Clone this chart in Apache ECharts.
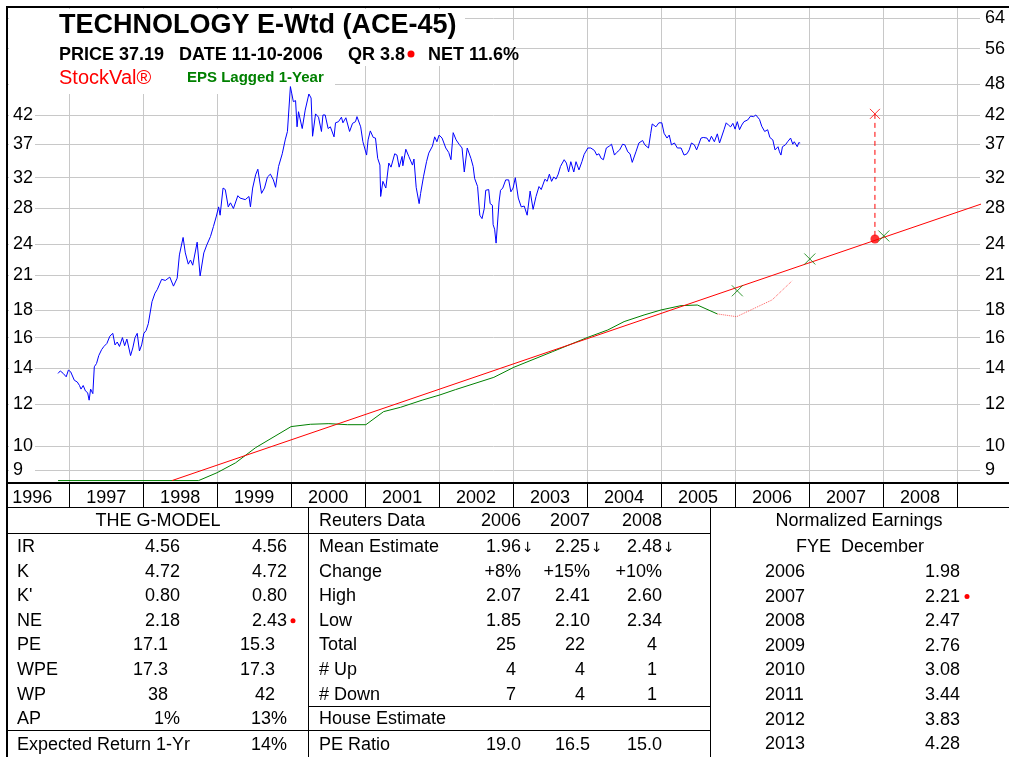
<!DOCTYPE html>
<html>
<head>
<meta charset="utf-8">
<script src="https://cdn.jsdelivr.net/npm/echarts@6.0.0/dist/echarts.min.js"></script>
<style>
html,body{margin:0;padding:0;background:#fff;}
#chart{width:1009px;height:757px;}
</style>
</head>
<body>
<div id="chart"></div>
<script>
var FONT = 'Liberation Sans, Arial, sans-serif';

// axis ticks
var yearTicks = [1997,1998,1999,2000,2001,2002,2003,2004,2005,2006,2007,2008,2009];
var yearLabelPos = [1996.5,1997.5,1998.5,1999.5,2000.5,2001.5,2002.5,2003.5,2004.5,2005.5,2006.5,2007.5,2008.5];
var leftTicks = [9,10,12,14,16,18,21,24,28,32,37,42];
var rightTicks = [9,10,12,14,16,18,21,24,28,32,37,42,48,56,64];
var xMin = 1996.16, xMax = 2009.31;
var yMin = 8.52, yMax = 67.07;

// weekly-ish price (blue)
var priceDates = [1996.85,1996.88,1996.92,1996.96,1996.99,1997.02,1997.07,1997.11,1997.14,1997.16,1997.19,1997.22,1997.25,1997.27,1997.29,1997.32,1997.34,1997.37,1997.40,1997.44,
1997.47,1997.51,1997.55,1997.59,1997.62,1997.65,1997.68,1997.72,1997.75,1997.78,1997.83,1997.86,1997.89,1997.92,1997.95,1997.98,1998.01,1998.04,1998.07,1998.12,
1998.16,1998.19,1998.25,1998.30,1998.36,1998.41,1998.46,1998.49,1998.54,1998.57,1998.61,1998.64,1998.67,1998.73,1998.77,1998.82,1998.86,1998.91,1998.95,1998.99,
1999.02,1999.04,1999.08,1999.11,1999.15,1999.18,1999.22,1999.28,1999.31,1999.38,1999.43,1999.45,1999.48,1999.52,1999.55,1999.60,1999.64,1999.68,1999.72,1999.76,
1999.79,1999.83,1999.88,1999.92,1999.95,1999.99,2000.03,2000.06,2000.08,2000.10,2000.15,2000.19,2000.24,2000.27,2000.29,2000.33,2000.37,2000.41,2000.43,2000.46,
2000.50,2000.53,2000.58,2000.60,2000.64,2000.68,2000.70,2000.74,2000.79,2000.83,2000.87,2000.89,2000.94,2000.97,2001.02,2001.04,2001.07,2001.11,2001.14,2001.17,
2001.20,2001.21,2001.24,2001.28,2001.32,2001.35,2001.40,2001.43,2001.46,2001.50,2001.51,2001.55,2001.59,2001.64,2001.66,2001.69,2001.73,2001.75,2001.79,2001.83,
2001.86,2001.91,2001.94,2001.97,2002.00,2002.04,2002.09,2002.13,2002.16,2002.19,2002.23,2002.27,2002.31,2002.34,2002.38,2002.43,2002.46,2002.48,2002.52,2002.55,
2002.58,2002.61,2002.63,2002.67,2002.69,2002.72,2002.73,2002.75,2002.77,2002.81,2002.83,2002.86,2002.90,2002.94,2002.97,2003.00,2003.03,2003.07,2003.11,2003.15,
2003.19,2003.23,2003.27,2003.31,2003.35,2003.38,2003.43,2003.46,2003.49,2003.52,2003.55,2003.58,2003.61,2003.64,2003.69,2003.72,2003.75,2003.78,2003.82,2003.85,
2003.89,2003.93,2003.96,2004.01,2004.05,2004.10,2004.13,2004.16,2004.19,2004.22,2004.26,2004.30,2004.33,2004.37,2004.40,2004.44,2004.48,2004.51,2004.55,2004.58,
2004.61,2004.66,2004.70,2004.75,2004.78,2004.83,2004.86,2004.88,2004.93,2004.97,2005.01,2005.04,2005.08,2005.11,2005.14,2005.18,2005.22,2005.27,2005.31,2005.35,
2005.38,2005.41,2005.45,2005.48,2005.50,2005.54,2005.57,2005.62,2005.65,2005.68,2005.72,2005.76,2005.79,2005.81,2005.85,2005.88,2005.91,2005.94,2005.97,2006.00,
2006.03,2006.06,2006.09,2006.12,2006.17,2006.21,2006.25,2006.28,2006.33,2006.36,2006.40,2006.44,2006.47,2006.51,2006.54,2006.58,2006.60,2006.62,2006.64,2006.68,
2006.71,2006.75,2006.78,2006.80,2006.84,2006.86,2006.88];
var priceValues = [13.7,13.85,13.7,13.5,13.9,13.8,13.3,13.2,13.0,12.8,13.0,12.7,12.6,12.2,12.8,12.55,14.1,14.3,14.8,15.2,
15.4,15.6,16.1,16.3,15.5,15.7,15.4,16.0,15.45,15.9,14.8,15.3,16.0,16.3,15.1,15.5,16.3,16.5,17.0,18.7,
19.4,19.7,20.6,20.5,20.8,20.0,20.7,22.9,24.7,23.1,22.0,22.4,21.9,24.2,20.9,23.1,23.9,24.8,25.9,27.1,
28.2,27.2,30.6,30.4,28.2,28.7,28.0,29.6,29.3,29.1,29.5,28.2,30.6,32.4,33.2,29.9,30.6,32.1,32.5,31.7,
30.7,33.6,35.5,37.7,39.1,47.5,44.5,44.7,39.9,42.6,39.6,42.9,46.0,45.2,38.3,42.2,41.6,39.1,42.0,42.0,
39.6,39.9,38.2,40.6,40.8,41.6,40.6,41.5,39.1,40.5,40.8,41.7,39.9,37.4,35.3,37.7,39.2,38.1,38.0,34.8,
33.8,29.5,31.5,30.6,34.1,33.5,35.5,35.3,33.5,35.1,33.7,36.2,35.1,33.8,34.7,30.7,28.6,29.9,32.2,34.3,
35.6,36.7,38.2,37.4,38.5,38.0,36.4,35.7,34.6,38.9,37.7,37.0,36.4,32.8,36.4,34.8,33.6,31.9,30.8,27.2,
26.8,28.0,30.3,30.4,28.6,28.4,26.1,25.6,24.1,28.8,30.3,30.6,31.7,31.7,30.1,30.6,32.0,29.3,28.2,28.3,
27.2,30.2,27.9,29.5,30.8,30.4,31.8,31.5,32.5,31.5,32.1,31.8,32.5,33.6,34.6,34.1,32.8,34.3,32.8,34.3,
33.1,34.3,35.4,36.4,36.4,36.0,35.3,35.5,34.8,34.6,36.4,36.7,37.0,35.3,35.7,36.1,37.0,36.9,35.8,35.5,
34.2,35.8,37.2,37.6,36.9,36.4,38.8,40.4,39.9,40.6,40.6,38.8,38.0,38.5,36.9,37.2,36.4,36.4,35.3,35.5,
36.1,37.2,36.9,36.1,36.7,38.0,38.1,38.0,37.4,38.3,37.4,38.7,37.2,37.4,39.4,40.6,40.2,39.9,40.5,39.5,
40.8,39.4,40.2,40.8,41.1,41.8,41.7,42.0,41.2,40.0,39.1,39.4,38.1,37.7,36.1,36.6,35.8,35.3,36.6,36.9,
37.4,38.0,37.0,37.4,36.6,37.25,37.19];

// EPS lagged 1-year (green), and projected part (red dotted)
var epsDates = [1996.85,1998.75,1999.00,1999.25,1999.52,2000.00,2000.26,2000.51,2000.76,2001.01,2001.25,2001.48,2001.77,2002.01,2002.22,2002.74,2003.01,2003.53,2004.01,2004.28,2004.50,2004.77,2005.00,2005.27,2005.49,2005.76];
var epsValues = [8.61,8.61,8.91,9.30,9.93,10.88,10.99,11.02,10.97,10.97,11.61,11.83,12.20,12.48,12.77,13.47,14.07,15.05,16.02,16.54,17.15,17.65,18.04,18.38,18.43,17.73];
var projDates = [2005.76,2006.02,2006.50,2006.77];
var projValues = [17.73,17.52,18.84,20.46];

// normalized earnings growth line (red)
var trendDates = [1998.39,2009.33];
var trendValues = [8.61,28.56];

// normalized earnings markers (green x)
var neDates = [2006.03,2007.01,2008.01];
var neValues = [19.6,22.5,24.86];

// target: worth price and fair value
var targetDate = 2007.89;
var targetHigh = 42.2;
var targetLow = 24.54;

// tables
var gRows = ['IR','K',"K'",'NE','PE','WPE','WP','AP'];
var gNow = ['4.56','4.72','0.80','2.18','17.1','17.3','38','1%'];
var gNext = ['4.56','4.72','0.80','2.43','15.3','17.3','42','13%'];
var expectedReturn = '14%';

var rYears = ['2006','2007','2008'];
var rRows = ['Mean Estimate','Change','High','Low','Total','# Up','# Down'];
var rVals = [
  ['1.96','2.25','2.48'],
  ['+8%','+15%','+10%'],
  ['2.07','2.41','2.60'],
  ['1.85','2.10','2.34'],
  ['25','22','4'],
  ['4','4','1'],
  ['7','4','1']
];
var peRatio = ['19.0','16.5','15.0'];

var neYears = ['2006','2007','2008','2009','2010','2011','2012','2013'];
var neTable = ['1.98','2.21','2.47','2.76','3.08','3.44','3.83','4.28'];

function zip(a, b) {
  var out = [];
  for (var i = 0; i < a.length; i++) out.push([a[i], b[i]]);
  return out;
}

var chart = echarts.init(document.getElementById('chart'));

var els = [];
function txt(s, x, y, opt) {
  opt = opt || {};
  els.push({
    type: 'text', x: x, y: y, z: opt.z || 10,
    style: {
      text: s, fill: opt.color || '#000',
      fontSize: opt.size || 18, fontWeight: opt.weight || 'normal',
      fontFamily: opt.family || FONT,
      align: opt.align || 'left', verticalAlign: 'middle'
    }
  });
}
function line(x1, y1, x2, y2, w) {
  els.push({type: 'line', z: 10, shape: {x1: x1, y1: y1, x2: x2, y2: y2},
    style: {stroke: '#000', lineWidth: w || 1}});
}
function mask(x, y, w, h) {
  els.push({type: 'rect', z: 1, shape: {x: x, y: y, width: w, height: h}, style: {fill: '#fff'}});
}
function dot(x, y, r) {
  els.push({type: 'circle', z: 10, shape: {cx: x, cy: y, r: r}, style: {fill: '#ff0000'}});
}

// masks behind the title block and left labels
mask(9, 9, 26, 472);
mask(9, 9, 456, 31);
mask(9, 40, 517, 8);
mask(9, 48, 495, 18);
mask(9, 66, 326, 28);

// title block
txt('TECHNOLOGY E-Wtd (ACE-45)', 59, 26, {size: 27, weight: 'bold'});
txt('PRICE 37.19', 59, 55, {weight: 'bold'});
txt('DATE 11-10-2006', 179, 55, {weight: 'bold'});
txt('QR 3.8', 348, 55, {weight: 'bold'});
dot(411, 54, 3.5);
txt('NET 11.6%', 428, 55, {weight: 'bold'});
txt('StockVal\u00ae', 59, 78.5, {size: 20, color: '#ff0000'});
txt('EPS Lagged 1-Year', 187, 78, {size: 15, weight: 'bold', color: '#008000'});

// frame
line(6, 7, 1009, 7, 2);
line(7, 6, 7, 757, 2);
line(7, 483, 1009, 483, 2);
line(7, 507.5, 1009, 507.5, 1);

// G-model table
var rowY = [];
for (var i = 0; i < 8; i++) rowY.push(547 + i * 24.6);
line(308.5, 507, 308.5, 757);
line(710.5, 507, 710.5, 757);
line(7, 533.5, 308, 533.5);
line(7, 730.5, 308, 730.5);
line(308, 533.5, 710, 533.5);
line(308, 706.5, 710, 706.5);
line(308, 730.5, 710, 730.5);

txt('THE G-MODEL', 158, 521, {align: 'center'});
function gx(v, R) { return (/\.\d\d$|%$/.test(v)) ? R : R - 12; }
for (var i = 0; i < gRows.length; i++) {
  txt(gRows[i], 17, rowY[i]);
  txt(gNow[i], gx(gNow[i], 180), rowY[i], {align: 'right'});
  txt(gNext[i], gx(gNext[i], 287), rowY[i], {align: 'right'});
}
dot(293, rowY[3], 2.5);
txt('Expected Return 1-Yr', 17, 745);
txt(expectedReturn, 287, 745, {align: 'right'});

// Reuters table
var rR = [521, 590, 662];
function rx(v, R) { return (/[.%]/.test(v)) ? R : R - 5; }
txt('Reuters Data', 319, 521);
for (var j = 0; j < 3; j++) txt(rYears[j], rR[j], 521, {align: 'right'});
for (var i = 0; i < rRows.length; i++) {
  txt(rRows[i], 319, rowY[i]);
  for (var j = 0; j < 3; j++) {
    txt(rVals[i][j], rx(rVals[i][j], rR[j]), rowY[i], {align: 'right'});
    if (i === 0) txt('\u2193', rR[j] + 1, rowY[i] + 1, {size: 14, family: 'DejaVu Sans'});
  }
}
txt('House Estimate', 319, rowY[7]);
txt('PE Ratio', 319, 745);
for (var j = 0; j < 3; j++) txt(peRatio[j], rR[j], 745, {align: 'right'});

// normalized earnings table
txt('Normalized Earnings', 859, 521, {align: 'center'});
txt('FYE  December', 860, 547, {align: 'center'});
for (var i = 0; i < neYears.length; i++) {
  var yy = 572 + i * 24.6;
  txt(neYears[i], 765, yy);
  txt(neTable[i], 960, yy, {align: 'right'});
}
dot(967, 572 + 24.6, 2.5);

var xPath = 'path://M0,0L10,10M10,0L0,10';

chart.setOption({
  animation: false,
  grid: {left: 7, right: 29, top: 7, bottom: 274, containLabel: false},
  xAxis: {
    type: 'value', min: xMin, max: xMax,
    axisLine: {show: false},
    axisTick: {show: true, customValues: yearTicks, length: 24, inside: false, lineStyle: {color: '#000', width: 1}},
    axisLabel: {customValues: yearLabelPos, margin: 6, fontSize: 18, color: '#000', fontFamily: FONT,
      formatter: function (v) { return String(Math.floor(v)); }},
    splitLine: {show: true, lineStyle: {color: '#c8c8c8', width: 1}}
  },
  yAxis: [
    {
      type: 'log', logBase: 10, min: yMin, max: yMax, position: 'left', z: 3,
      axisLine: {show: false},
      axisTick: {show: false, customValues: leftTicks},
      splitLine: {show: false},
      axisLabel: {inside: true, margin: 6, customValues: leftTicks, fontSize: 18, color: '#000', fontFamily: FONT,
        formatter: function (v) { return String(Math.round(v)); }}
    },
    {
      type: 'log', logBase: 10, min: yMin, max: yMax, position: 'right',
      axisLine: {show: false},
      axisTick: {show: false, customValues: rightTicks},
      splitLine: {show: true, lineStyle: {color: '#c8c8c8', width: 1}},
      axisLabel: {margin: 5, customValues: rightTicks, fontSize: 18, color: '#000', fontFamily: FONT,
        formatter: function (v) { return String(Math.round(v)); }}
    }
  ],
  series: [
    {name: 'Price', type: 'line', yAxisIndex: 1, data: zip(priceDates, priceValues), showSymbol: false,
      lineStyle: {color: '#0000ff', width: 1}},
    {name: 'EPS', type: 'line', yAxisIndex: 1, data: zip(epsDates, epsValues), showSymbol: false,
      lineStyle: {color: '#008000', width: 1}},
    {name: 'EPS est', type: 'line', yAxisIndex: 1, data: zip(projDates, projValues), showSymbol: false,
      lineStyle: {color: '#ff3333', width: 1, type: 'dotted', opacity: 0.8}},
    {name: 'Growth', type: 'line', yAxisIndex: 1, data: zip(trendDates, trendValues), showSymbol: false,
      lineStyle: {color: '#ff0000', width: 1}},
    {name: 'Target', type: 'line', yAxisIndex: 1, data: [[targetDate, targetHigh], [targetDate, targetLow]], showSymbol: false,
      lineStyle: {color: '#ff0000', width: 1, type: [5, 4]}},
    {name: 'Worth', type: 'scatter', yAxisIndex: 1, data: [[targetDate, targetHigh]], symbol: xPath, symbolSize: 10,
      itemStyle: {color: 'rgba(0,0,0,0)', borderColor: '#ff0000', borderWidth: 1}, z: 4},
    {name: 'Fair', type: 'scatter', yAxisIndex: 1, data: [[targetDate, targetLow]], symbol: 'circle', symbolSize: 9,
      itemStyle: {color: '#ff0000'}, z: 4},
    {name: 'NE', type: 'scatter', yAxisIndex: 1, data: zip(neDates, neValues), symbol: xPath, symbolSize: 11,
      itemStyle: {color: 'rgba(0,0,0,0)', borderColor: '#008000', borderWidth: 1}, z: 4}
  ],
  graphic: {elements: els}
});
</script>
</body>
</html>
